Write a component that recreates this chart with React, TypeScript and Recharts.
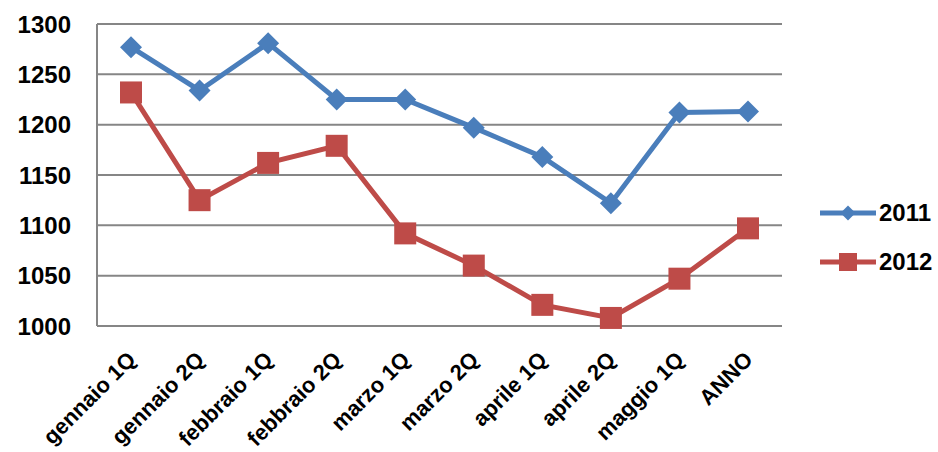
import React from 'react'
import { LineChart, Line, XAxis, YAxis, CartesianGrid } from 'recharts'

// ─── Data ────────────────────────────────────────────────────────────
const periods = [
  'gennaio 1Q', 'gennaio 2Q', 'febbraio 1Q', 'febbraio 2Q', 'marzo 1Q',
  'marzo 2Q', 'aprile 1Q', 'aprile 2Q', 'maggio 1Q', 'ANNO',
]
const values2011 = [1277, 1234, 1281, 1225, 1225, 1197, 1168, 1122, 1212, 1213]
const values2012 = [1232, 1125, 1162, 1179, 1092, 1060, 1021, 1008, 1047, 1097]
const yTicks = [1000, 1050, 1100, 1150, 1200, 1250, 1300]

const rows = periods.map((p, i) => ({ period: p, y2011: values2011[i], y2012: values2012[i] }))

const BLUE = '#4A7EBB'
const RED = '#BE4B48'
const GRID = '#868686'
const FONT = '"Liberation Sans", Arial, sans-serif'

// ─── Markers ─────────────────────────────────────────────────────────
function Diamond({ cx, cy, r = 11, fill }: any) {
  if (cx == null || cy == null) return null
  return <path d={`M${cx},${cy - r} L${cx + r},${cy} L${cx},${cy + r} L${cx - r},${cy} Z`} fill={fill} />
}

function Square({ cx, cy, s = 22, fill }: any) {
  if (cx == null || cy == null) return null
  return <rect x={cx - s / 2} y={cy - s / 2} width={s} height={s} fill={fill} />
}

// rotated category labels, anchored at their lower right end
function SlantTick({ x, y, payload }: any) {
  const px = x + 6
  const py = y + 35
  return (
    <text
      x={px}
      y={py}
      transform={`rotate(-45, ${px}, ${py})`}
      textAnchor="end"
      fontFamily={FONT}
      fontWeight="bold"
      fontSize={22}
      fill="#000"
    >
      {payload.value}
    </text>
  )
}

// legend: line sample with the series marker, then the year
function LegendBox() {
  const items = [
    { name: '2011', color: BLUE, mark: <Diamond cx={28} cy={11} r={7.5} fill={BLUE} /> },
    { name: '2012', color: RED, mark: <Square cx={28} cy={11} s={18} fill={RED} /> },
  ]
  return (
    <div style={{ position: 'absolute', left: 820, top: 202, display: 'flex', flexDirection: 'column', gap: 27 }}>
      {items.map((it) => (
        <div key={it.name} style={{ display: 'flex', alignItems: 'center', height: 22 }}>
          <svg width={56} height={22}>
            <line x1={0} y1={11} x2={56} y2={11} stroke={it.color} strokeWidth={5} />
            {it.mark}
          </svg>
          <span style={{ marginLeft: 3, fontFamily: FONT, fontWeight: 'bold', fontSize: 24, color: '#000', lineHeight: '22px' }}>
            {it.name}
          </span>
        </div>
      ))}
    </div>
  )
}

export default function App() {
  return (
    <div style={{ position: 'absolute', left: 0, top: 0, width: 938, height: 452, background: '#fff' }}>
      <LineChart width={938} height={452} data={rows} margin={{ top: 24, right: 156, left: 0, bottom: 0 }}>
        <CartesianGrid vertical={false} stroke={GRID} strokeWidth={2} />
        <XAxis
          dataKey="period"
          interval={0}
          height={126}
          padding={{ left: 34, right: 34 }}
          axisLine={{ stroke: GRID, strokeWidth: 2 }}
          tickLine={false}
          tickSize={0}
          tickMargin={0}
          tick={<SlantTick />}
        />
        <YAxis
          width={97}
          domain={[1000, 1300]}
          ticks={yTicks}
          interval={0}
          axisLine={{ stroke: GRID, strokeWidth: 2 }}
          tickLine={false}
          tickSize={0}
          tickMargin={26}
          tick={{ fontFamily: FONT, fontWeight: 'bold', fontSize: 24, fill: '#000' }}
        />
        <Line
          dataKey="y2011"
          name="2011"
          stroke={BLUE}
          strokeWidth={5}
          dot={(p: any) => <Diamond key={`d-${p.index}`} cx={p.cx} cy={p.cy} fill={BLUE} />}
          activeDot={false}
          isAnimationActive={false}
        />
        <Line
          dataKey="y2012"
          name="2012"
          stroke={RED}
          strokeWidth={5}
          dot={(p: any) => <Square key={`s-${p.index}`} cx={p.cx} cy={p.cy} fill={RED} />}
          activeDot={false}
          isAnimationActive={false}
        />
      </LineChart>
      <LegendBox />
    </div>
  )
}
